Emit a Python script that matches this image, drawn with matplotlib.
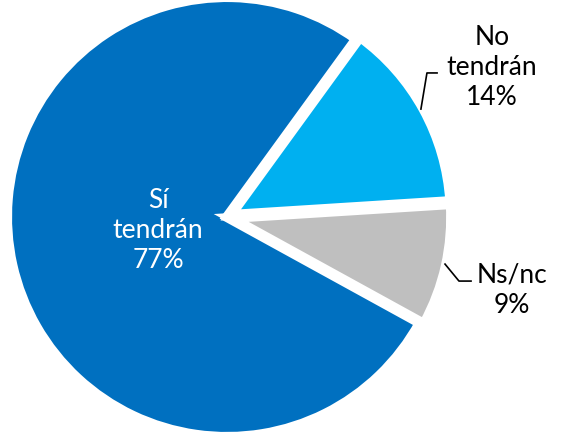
import matplotlib
matplotlib.use("Agg")
import matplotlib.pyplot as plt

labels = ["Sí\ntendrán", "Ns/nc", "No\ntendrán"]
values = [77, 9, 14]
colors = ["#0070C0", "#BFBFBF", "#00B0F0"]
explode = [0, 0.02, 0.02]

plt.rcParams['font.family'] = ['Lato', 'DejaVu Sans']

fig = plt.figure(figsize=(5.63, 4.35), dpi=100)
ax = fig.add_axes([0, 0, 1, 1])
wedges, _ = ax.pie(values, colors=colors, startangle=54, counterclock=True,
                   explode=explode, radius=1.023,
                   wedgeprops=dict(edgecolor="white", linewidth=7.2))
ax.set_xlim(-227/215, (563-227)/215)
ax.set_ylim(-(435-218)/215, 218/215)
ax.set_aspect('auto')
ax.axis('off')

fs = 19
ax.text(-0.321, -0.056, f"{labels[0]}\n{values[0]}%", color="white", fontsize=fs,
        ha="center", va="center", linespacing=1.25)
ax.text(1.233, 0.702, f"{labels[2]}\n{values[2]}%", color="black", fontsize=fs,
        ha="center", va="center", linespacing=1.25)
ax.text(1.326, -0.335, f"{labels[1]}\n{values[1]}%", color="black", fontsize=fs,
        ha="center", va="center", linespacing=1.25)

ax.plot([0.902, 0.930, 0.977], [0.502, 0.670, 0.670], color="black", lw=1.2)
ax.plot([1.014, 1.079, 1.135], [-0.219, -0.298, -0.298], color="black", lw=1.2)

fig.savefig("out.png", dpi=100)
